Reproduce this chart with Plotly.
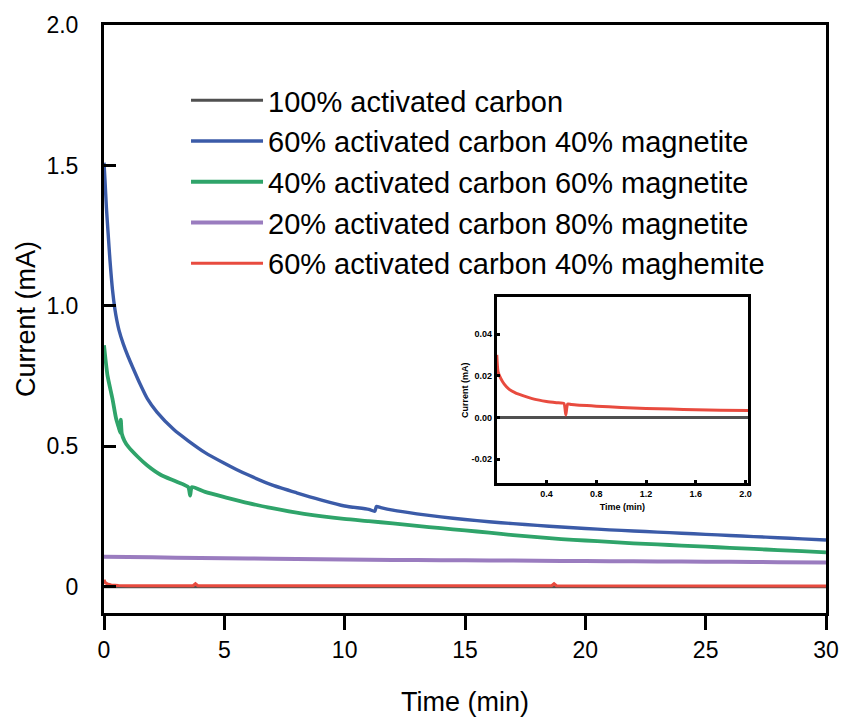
import plotly.graph_objects as go

FONT = "Liberation Sans, Arial, Helvetica, sans-serif"

# ---------------- data ----------------
labels = [
    "100% activated carbon",
    "60% activated carbon 40% magnetite",
    "40% activated carbon 60% magnetite",
    "20% activated carbon 80% magnetite",
    "60% activated carbon 40% maghemite",
]
colors = ["#505050", "#3b5ba8", "#2fa46a", "#9a7cbf", "#e84b3f"]

t_black = [0, 5, 10, 15, 20, 25, 30]
i_black = [0.0, 0.0, 0.0, 0.0, 0.0, 0.0, 0.0]

t_blue = [0, 0.04, 0.1, 0.17, 0.25, 0.35, 0.45, 0.53, 0.62, 0.8, 1.0, 1.2, 1.5,
          1.8, 2.2, 2.9, 3.5, 4.2, 5.0, 5.5, 6.0, 7.0, 8.0, 9.0, 10, 11, 11.25,
          11.32, 11.5, 12, 13, 14, 15, 16, 17, 18, 19, 20, 21, 22, 23, 24, 25,
          26, 27, 28, 29, 30]
i_blue = [1.51, 1.45, 1.35, 1.26, 1.16, 1.06, 0.99, 0.95, 0.915, 0.865, 0.82,
          0.78, 0.722, 0.67, 0.622, 0.56, 0.52, 0.478, 0.44, 0.418, 0.398,
          0.362, 0.335, 0.31, 0.288, 0.276, 0.269, 0.286, 0.282, 0.273, 0.26,
          0.249, 0.24, 0.232, 0.225, 0.219, 0.213, 0.208, 0.203, 0.199, 0.195,
          0.191, 0.187, 0.183, 0.179, 0.175, 0.171, 0.167]

t_green = [0, 0.05, 0.15, 0.35, 0.5, 0.62, 0.68, 0.7, 0.74, 0.85, 1.0, 1.39, 1.8,
           2.35, 3.0, 3.5, 3.58, 3.65, 4.2, 5.12, 6.0, 6.93, 8.31, 9.97, 11, 12,
           13, 14, 15, 16, 17, 18, 19, 20, 21, 22, 23, 24, 25, 26, 27, 28, 29, 30]
i_green = [0.86, 0.82, 0.75, 0.67, 0.6, 0.565, 0.548, 0.595, 0.545, 0.52, 0.5,
           0.464, 0.432, 0.399, 0.375, 0.355, 0.325, 0.355, 0.338, 0.317, 0.298,
           0.281, 0.26, 0.242, 0.234, 0.226, 0.217, 0.209, 0.201, 0.193, 0.184,
           0.177, 0.17, 0.165, 0.16, 0.155, 0.151, 0.147, 0.143, 0.139, 0.135,
           0.131, 0.127, 0.123]

t_purple = [0, 2, 4, 6, 8, 10, 12, 14, 16, 18, 20, 22, 24, 26, 28, 30]
i_purple = [0.107, 0.105, 0.103, 0.101, 0.099, 0.097, 0.096, 0.095, 0.094, 0.093,
            0.092, 0.091, 0.09, 0.089, 0.088, 0.087]

t_red = [0, 0.05, 0.15, 0.3, 0.6, 1.0, 3.7, 3.8, 3.9, 10, 18.6, 18.7, 18.8, 30]
i_red = [0.025, 0.015, 0.01, 0.007, 0.005, 0.004, 0.004, 0.011, 0.004, 0.004,
         0.004, 0.011, 0.004, 0.003]

# inset (first 2 min)
t_in_black = [0, 0.5, 1.0, 1.5, 2.02]
i_in_black = [0.0, 0.0, 0.0, 0.0, 0.0]
t_in_red = [0, 0.01, 0.03, 0.06, 0.1, 0.15, 0.21, 0.3, 0.4, 0.48, 0.54, 0.555,
            0.57, 0.6, 0.8, 1.0, 1.2, 1.4, 1.6, 1.8, 2.02]
i_in_red = [0.030, 0.022, 0.019, 0.016, 0.0135, 0.0118, 0.0105, 0.0088, 0.0077,
            0.0071, 0.0067, 0.0012, 0.0065, 0.0062, 0.0054, 0.0048, 0.0043,
            0.0040, 0.0037, 0.0035, 0.0033]

xticks_main = [0, 5, 10, 15, 20, 25, 30]
yticks_main = [0, 0.5, 1.0, 1.5, 2.0]
yticktext_main = ["0", "0.5", "1.0", "1.5", "2.0"]
xticks_in = [0.4, 0.8, 1.2, 1.6, 2.0]
xticktext_in = ["0.4", "0.8", "1.2", "1.6", "2.0"]
yticks_in = [-0.02, 0.0, 0.02, 0.04]
yticktext_in = ["-0.02", "0.00", "0.02", "0.04"]

# ---------------- figure ----------------
fig = go.Figure()
series = [(t_black, i_black), (t_blue, i_blue), (t_green, i_green),
          (t_purple, i_purple), (t_red, i_red)]
widths = [3, 3.4, 3.8, 4, 3]
shapes_ = ["linear", "spline", "spline", "spline", "linear"]
for (t, i), name, c, w, s in zip(series, labels, colors, widths, shapes_):
    fig.add_trace(go.Scatter(x=t, y=i, mode="lines", name=name,
                             line=dict(color=c, width=w, shape=s,
                                       smoothing=0.6 if s == "spline" else None),
                             xaxis="x", yaxis="y"))

fig.add_trace(go.Scatter(x=t_in_black, y=i_in_black, mode="lines", showlegend=False,
                         line=dict(color=colors[0], width=3), xaxis="x2", yaxis="y2"))
fig.add_trace(go.Scatter(x=t_in_red, y=i_in_red, mode="lines", showlegend=False,
                         line=dict(color=colors[4], width=3, shape="spline",
                                   smoothing=0.5),
                         xaxis="x2", yaxis="y2"))

fig.update_layout(
    width=841, height=717,
    margin=dict(l=104, r=15, t=25, b=104),
    paper_bgcolor="white", plot_bgcolor="white",
    font=dict(family=FONT, color="black"),
    showlegend=True,
    legend=dict(x=0.1136, y=0.915, xanchor="left", yanchor="top",
                bgcolor="rgba(0,0,0,0)", font=dict(size=29, family=FONT),
                itemwidth=72, tracegroupgap=0),
    xaxis=dict(domain=[0, 1], range=[0, 30], tickvals=xticks_main,
               showline=True, linecolor="black", linewidth=3, mirror=True,
               ticks="outside", ticklen=14, tickwidth=3, tickcolor="black",
               tickfont=dict(size=23), showgrid=False, zeroline=False,
               automargin=False,
               title=dict(text="Time (min)", font=dict(size=27), standoff=34)),
    yaxis=dict(domain=[0, 1], range=[-0.093, 2.0], tickvals=yticks_main,
               ticktext=yticktext_main,
               showline=True, linecolor="black", linewidth=3, mirror=True,
               ticks="inside", ticklen=12, tickwidth=3, tickcolor="black",
               tickfont=dict(size=23), showgrid=False, zeroline=False,
               ticklabelstandoff=18, automargin=False,
               title=dict(text="Current (mA)", font=dict(size=27), standoff=3)),
    xaxis2=dict(domain=[0.544, 0.892], anchor="y2", range=[0, 2.02],
                tickvals=xticks_in, ticktext=xticktext_in,
                showline=True, linecolor="black", linewidth=3, mirror=True,
                ticks="inside", ticklen=3, tickwidth=3, tickcolor="black",
                tickfont=dict(size=9, family=FONT, weight="bold"),
                showgrid=False, zeroline=False, automargin=False,
                title=dict(text="<b>Time (min)</b>", font=dict(size=9), standoff=6)),
    yaxis2=dict(domain=[0.221, 0.537], anchor="x2", range=[-0.0315, 0.0577],
                tickvals=yticks_in, ticktext=yticktext_in,
                showline=True, linecolor="black", linewidth=3, mirror=True,
                ticks="inside", ticklen=3, tickwidth=3, tickcolor="black",
                tickfont=dict(size=9, family=FONT, weight="bold"),
                showgrid=False, zeroline=False, automargin=False,
                title=dict(text="<b>Current (mA)</b>", font=dict(size=9), standoff=2)),
)

fig.write_html("out.html")
